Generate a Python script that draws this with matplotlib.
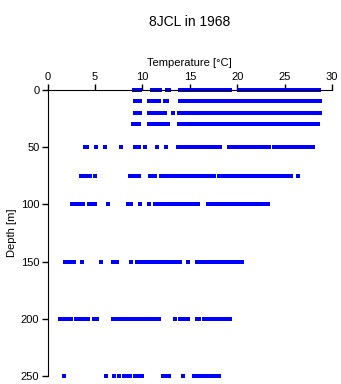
import matplotlib
matplotlib.use("Agg")
import matplotlib.pyplot as plt

plt.rcParams['font.family'] = ['Liberation Sans', 'DejaVu Sans']

# depth levels [m] and the temperatures [degC] recorded at each level
depths = [0, 10, 20, 30, 50, 75, 100, 150, 200, 250]

t_0 = [9.1, 9.3, 9.5, 9.7, 11.0, 11.2, 11.4, 11.8, 12.6, 12.8,
       14.0, 14.2, 14.5, 14.8, 15.1, 15.4, 15.9, 16.2, 16.5,
       16.8, 17.1, 17.4, 17.7, 18.0, 18.3, 18.6, 18.9, 19.2,
       20.2, 20.5, 20.8, 21.1, 21.4, 21.7, 22.0, 22.3, 22.6, 22.9, 23.2,
       23.4, 23.7, 24.0, 24.3, 24.6, 24.9, 25.2, 25.5, 25.8, 26.1,
       26.3, 26.6, 26.9, 27.2, 27.5, 27.8, 28.1, 28.4, 28.6]
t_10 = [9.2, 9.4, 9.7, 10.7, 10.9, 11.1, 11.4, 11.7, 12.4, 12.6, 14.0, 14.3,
        14.6, 14.9, 15.2, 15.4, 15.7, 16.0, 16.3, 16.6, 16.9, 17.2, 17.5,
        17.8, 18.1, 18.4, 18.7, 19.0, 19.3, 19.6, 19.9, 20.2, 20.5, 20.8,
        21.1, 21.4, 21.7, 22.0, 22.3, 22.6, 22.9, 23.2, 23.5, 23.8, 24.1,
        24.4, 24.7, 25.0, 25.3, 25.6, 25.9, 26.2, 26.5, 26.8, 27.1, 27.4,
        27.7, 28.0, 28.3, 28.7]
t_20 = [9.2, 9.5, 9.7, 10.7, 10.9, 11.2, 11.4, 11.7, 11.9, 12.1, 12.4, 13.2,
        13.9, 14.1, 14.4, 14.7, 15.0, 15.3, 15.5, 15.8, 16.1, 16.4, 16.7,
        17.0, 17.3, 17.6, 17.9, 18.2, 18.5, 18.8, 19.1, 19.4, 19.8, 20.1,
        20.4, 20.7, 21.0, 21.3, 21.6, 21.9, 22.2, 22.5, 22.8, 23.1, 23.4,
        23.7, 24.0, 24.3, 24.6, 24.9, 25.2, 25.5, 25.8, 26.1, 26.4, 26.7,
        27.0, 27.3, 27.6, 27.9, 28.2, 28.5, 28.7]
t_30 = [9.0, 9.3, 9.6, 10.7, 10.9, 11.2, 11.4, 11.7, 12.2, 12.5, 12.7, 13.9,
        14.1, 14.4, 14.7, 15.0, 15.3, 15.6, 15.9, 16.2, 16.5, 16.8, 17.1,
        17.4, 17.7, 18.0, 18.2, 18.5, 18.8, 19.1, 19.6, 19.9, 20.2, 20.5,
        20.8, 21.1, 21.4, 21.7, 22.0, 22.3, 22.6, 22.9, 23.2, 23.5, 23.8,
        24.1, 24.4, 24.7, 25.0, 25.3, 25.6, 25.9, 26.2, 26.5, 26.8, 27.1,
        27.4, 27.7, 28.0, 28.3, 28.5]
t_50 = [3.9, 4.1, 5.1, 6.0, 7.7, 9.2, 9.4, 9.6, 10.3, 11.5, 12.5, 13.8, 14.1,
        14.4, 14.7, 14.9, 15.1, 15.4, 15.7, 16.0, 16.3, 16.6, 16.9, 17.2,
        17.5, 17.8, 18.2, 19.1, 19.4, 19.7, 20.0, 20.3, 20.6, 20.9, 21.2,
        21.5, 21.8, 22.1, 22.4, 22.7, 23.0, 23.3, 23.9, 24.2, 24.5, 24.8,
        25.1, 25.4, 25.7, 26.0, 26.2, 26.5, 26.8, 27.1, 27.4, 27.7, 28.0]
t_75 = [3.5, 3.7, 4.0, 4.5, 5.0, 8.7, 9.0, 9.3, 9.6, 10.8, 11.1, 11.3, 12.0,
        12.3, 12.6, 12.9, 13.2, 13.5, 13.8, 14.1, 14.4, 14.7, 15.0, 15.3,
        15.6, 16.0, 16.3, 16.6, 16.9, 17.2, 17.5, 18.1, 18.4, 18.7, 19.0,
        19.3, 19.6, 19.9, 20.2, 20.5, 20.8, 21.2, 21.5, 21.8, 22.1, 22.4,
        22.7, 23.0, 23.3, 23.6, 23.9, 24.2, 24.5, 24.8, 25.1, 25.4, 25.7, 26.4]
t_100 = [2.6, 2.9, 3.2, 3.5, 3.7, 4.4, 4.7, 5.0, 6.4, 8.5, 8.8, 9.7, 10.7,
         11.3, 11.6, 11.9, 12.2, 12.5, 12.8, 13.1, 13.4, 13.7, 14.0, 14.3,
         14.6, 15.0, 15.3, 15.6, 15.9, 16.9, 17.2, 17.6, 17.9, 18.2, 18.5,
         18.8, 19.1, 19.4, 19.7, 20.0, 20.3, 20.6, 20.9, 21.2, 21.5, 21.8,
         22.0, 22.3, 22.6, 22.9, 23.2]
t_150 = [1.8, 2.2, 2.5, 2.8, 3.6, 5.6, 6.9, 7.3, 8.8, 9.4, 9.7, 9.9, 10.1,
         10.4, 10.7, 11.0, 11.3, 11.6, 11.9, 12.2, 12.5, 12.8, 13.0, 13.3,
         13.5, 14.0, 14.8, 15.7, 16.0, 16.3, 16.5, 16.8, 17.1, 17.4, 17.7,
         18.0, 18.3, 18.6, 18.9, 19.2, 19.5, 19.8, 20.1, 20.5]
t_200 = [1.3, 1.6, 1.9, 2.2, 2.5, 3.0, 3.3, 3.6, 4.0, 4.3, 4.9, 5.2, 6.9, 7.2,
         7.5, 7.8, 8.1, 8.4, 8.7, 8.9, 9.1, 9.4, 9.7, 9.9, 10.2, 10.4, 10.7,
         10.9, 11.1, 11.4, 11.7, 13.4, 14.0, 14.3, 14.6, 14.8, 15.8, 16.0,
         16.5, 16.8, 17.1, 17.4, 17.7, 18.0, 18.3, 18.6, 18.8, 19.2]
t_250 = [1.7, 6.1, 7.0, 7.5, 8.0, 8.5, 8.7, 9.2, 9.5, 9.8, 10.0, 12.2, 12.5,
         12.8, 14.3, 15.4, 15.7, 16.0, 16.3, 16.6, 16.9, 17.2, 17.5, 17.8, 18.1]

temps = [t_0, t_10, t_20, t_30, t_50, t_75, t_100, t_150, t_200, t_250]

x_ticks = [0, 5, 10, 15, 20, 25, 30]
y_ticks = [0, 50, 100, 150, 200, 250]

fig = plt.figure(figsize=(3.41, 3.84), dpi=100)
ax = fig.add_axes([0.14, 0.0208, 0.8336, 0.7448])

for d, tl in zip(depths, temps):
    ax.plot(tl, [d] * len(tl), linestyle='none', marker='s', ms=2.3,
            mew=0, color='#0000ff', clip_on=False)

ax.set_xlim(0, 30)
ax.set_ylim(250, 0)
ax.xaxis.tick_top()
ax.xaxis.set_label_position('top')
ax.set_xticks(x_ticks)
ax.set_yticks(y_ticks)
ax.tick_params(axis='both', direction='out', length=4, width=1,
               labelsize=8, pad=2)
ax.spines['bottom'].set_visible(False)
ax.spines['right'].set_visible(False)
ax.set_xlabel('Temperature [°C]', fontsize=8, labelpad=4)
ax.set_ylabel('Depth [m]', fontsize=8, labelpad=3)

fig.text(0.557, 0.943, '8JCL in 1968', ha='center', va='center', fontsize=10)

fig.savefig('out.png', dpi=100)
